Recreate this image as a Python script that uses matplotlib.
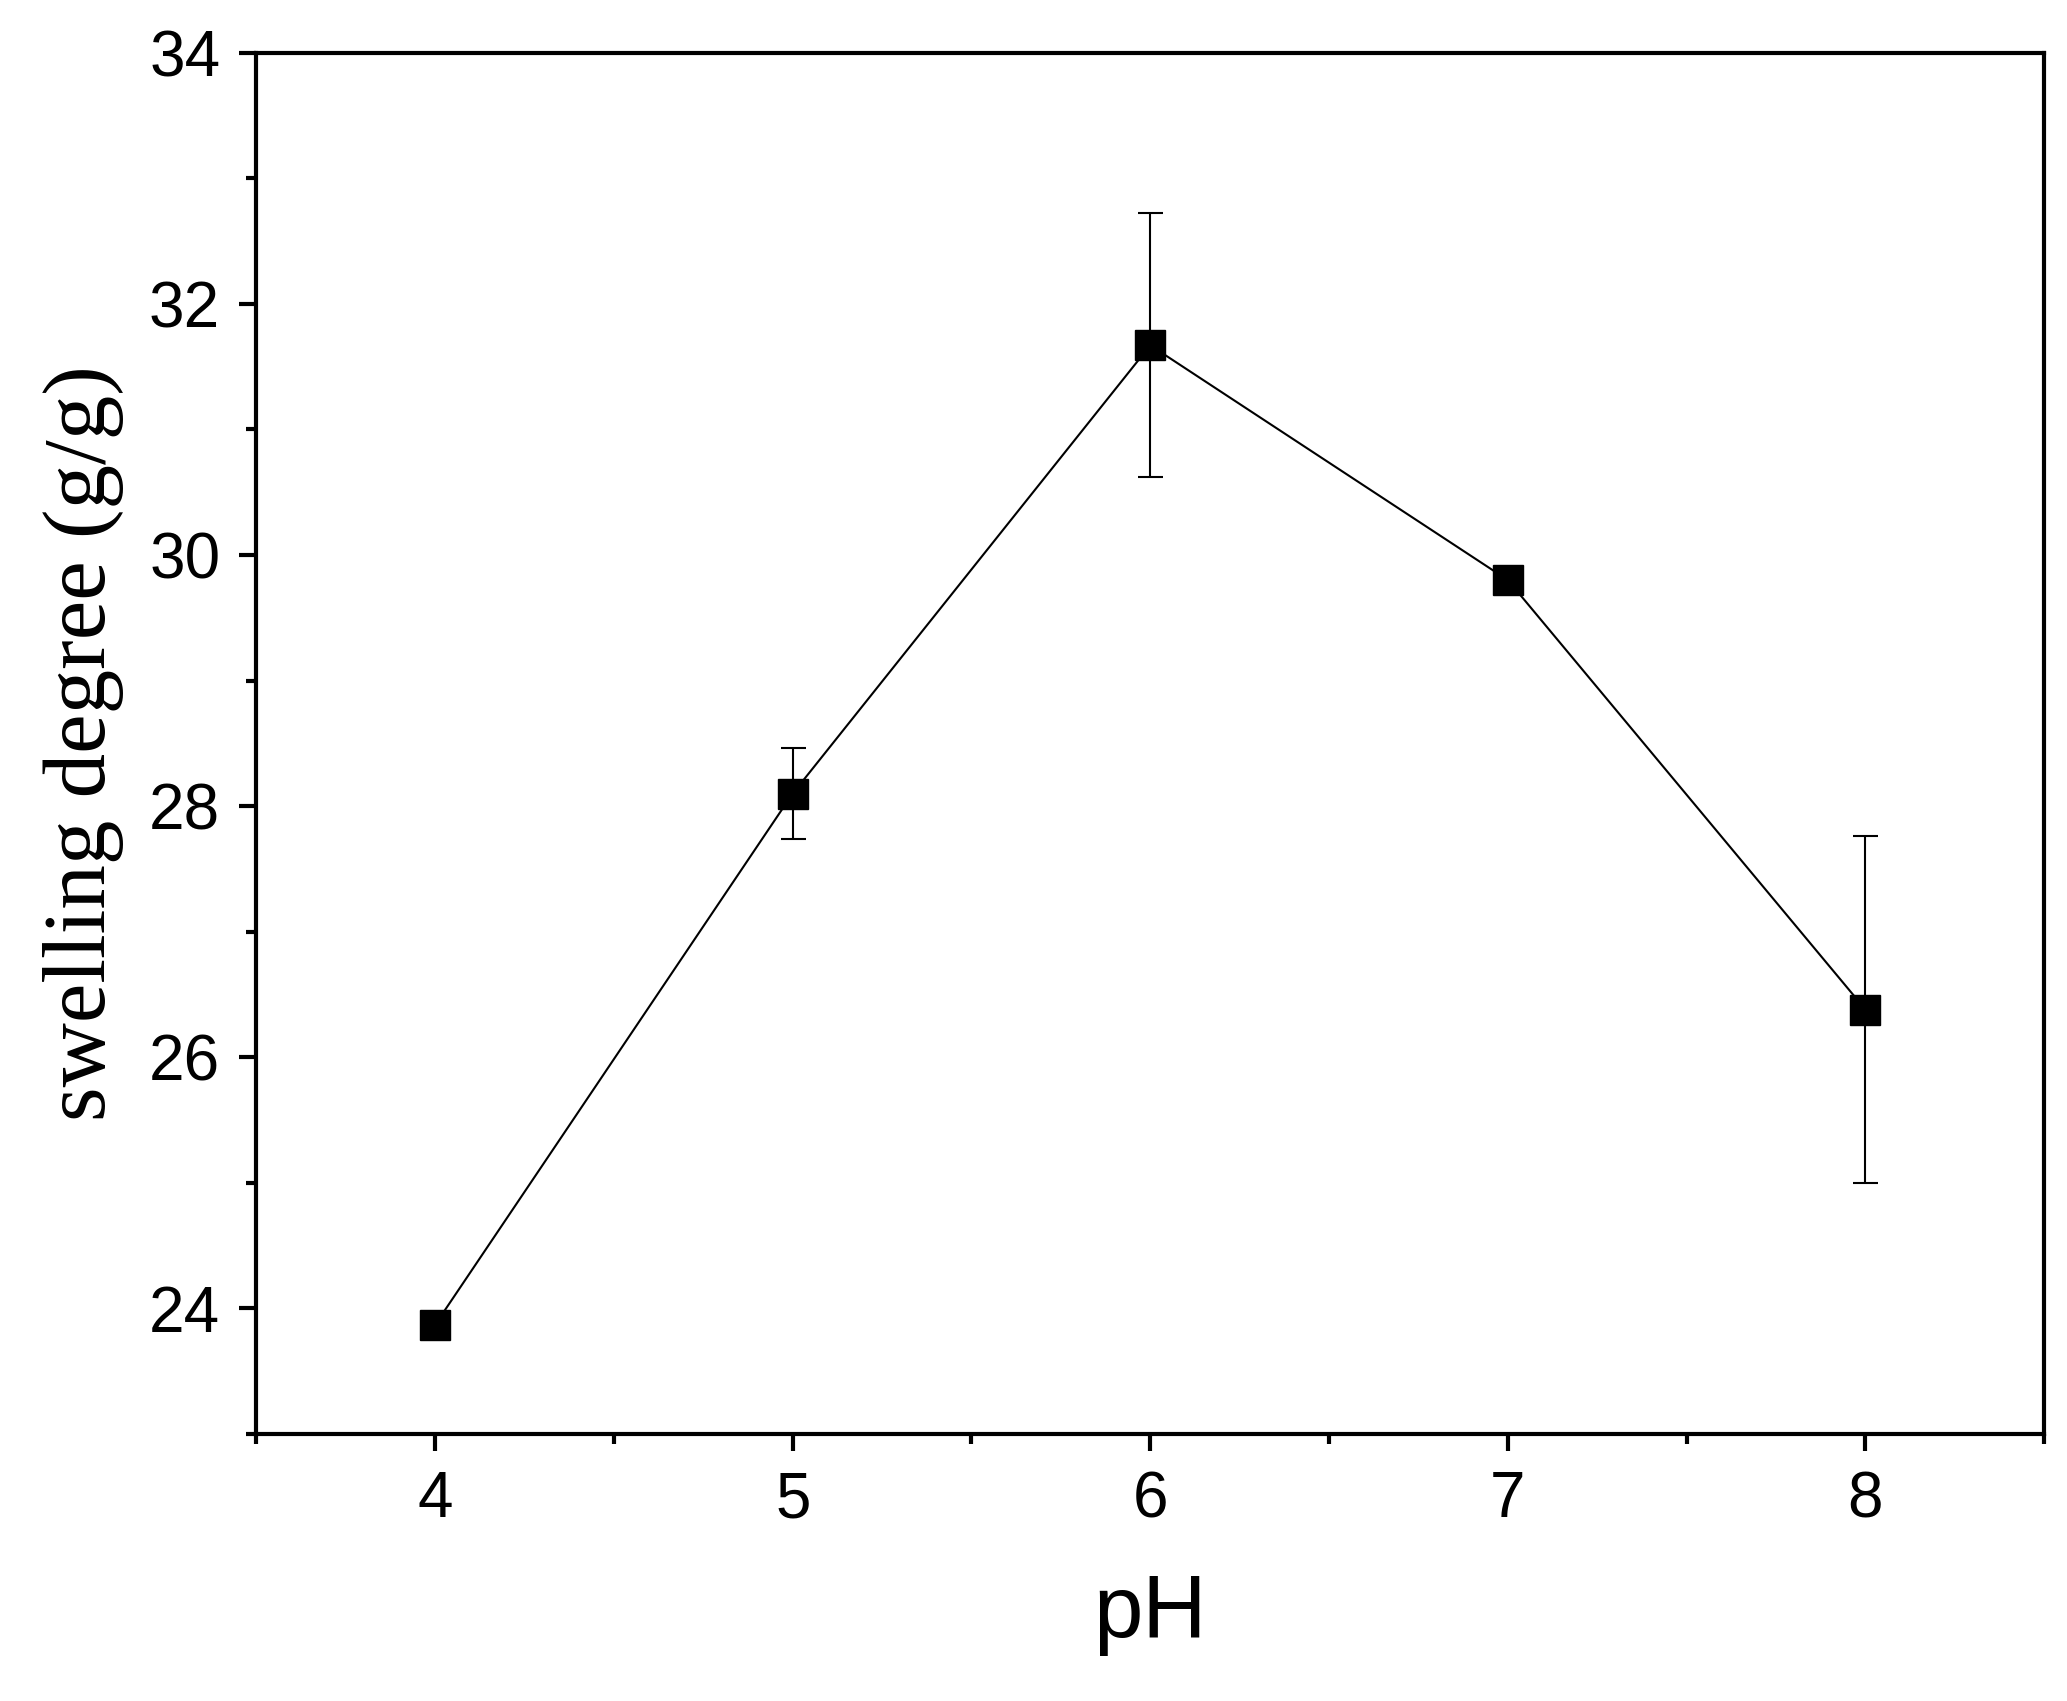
import matplotlib
matplotlib.use("Agg")
import matplotlib.pyplot as plt
from matplotlib.ticker import MultipleLocator

ph = [4, 5, 6, 7, 8]
swelling = [23.87, 28.10, 31.67, 29.80, 26.38]
err = [0.0, 0.36, 1.05, 0.0, 1.38]

fig = plt.figure(figsize=(20.67, 17.01), dpi=100)
ax = fig.add_axes([0.124, 0.157, 0.865, 0.812])

ax.errorbar(ph, swelling, yerr=err, color='black', lw=1.5, marker='s', ms=22,
            elinewidth=1.5, capsize=9, capthick=1.5)

ax.set_xlim(3.5, 8.5)
ax.set_ylim(23, 34)
ax.xaxis.set_major_locator(MultipleLocator(1))
ax.xaxis.set_minor_locator(MultipleLocator(0.5))
ax.yaxis.set_major_locator(MultipleLocator(2))
ax.yaxis.set_minor_locator(MultipleLocator(1))
ax.tick_params(which='major', direction='out', length=12, width=3,
               labelsize=46, pad=14)
ax.tick_params(which='minor', direction='out', length=7, width=3)
for lab in ax.get_xticklabels() + ax.get_yticklabels():
    lab.set_family('Liberation Sans')
for s in ax.spines.values():
    s.set_linewidth(3)

ax.set_xlabel('pH', fontsize=64, family='Liberation Sans', labelpad=30)
ax.set_ylabel('swelling degree (g/g)', fontsize=64, family='Liberation Serif', labelpad=18)

fig.savefig('out.png', dpi=100)
